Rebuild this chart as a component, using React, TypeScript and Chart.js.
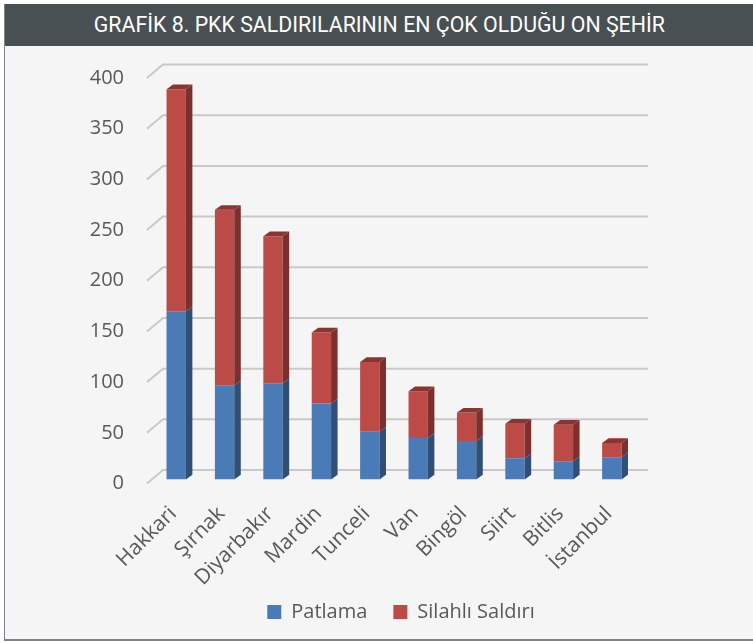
import React, { useEffect, useRef } from "react";
import { Chart, registerables } from "chart.js";

Chart.register(...registerables);

const TITLE = "GRAFİK 8. PKK SALDIRILARININ EN ÇOK OLDUĞU ON ŞEHİR";
const categories = ["Hakkari", "Şırnak", "Diyarbakır", "Mardin", "Tunceli", "Van", "Bingöl", "Siirt", "Bitlis", "İstanbul"];
const patlama = [166, 93, 95, 75, 47, 41, 38, 21, 18, 22];
const silahliSaldiri = [219, 173, 145, 70, 69, 46, 28, 34, 36, 14];
const seriesNames = ["Patlama", "Silahlı Saldırı"];
const yTicks = [0, 50, 100, 150, 200, 250, 300, 350, 400];

const FRONT = ["#4a7bb6", "#bc4b48"];
const SIDE = ["#2f4f76", "#7c2f2d"];
const TOP = ["#3a5f8e", "#8b3533"];
const DX = 6.5;
const DY = 4.7;

const wallPlugin = {
  id: "wall",
  beforeDatasetsDraw(chart: any) {
    const { ctx, chartArea, scales } = chart;
    const y = scales.y;
    ctx.save();
    ctx.strokeStyle = "#c9c9c9";
    ctx.lineWidth = 2;
    for (const v of yTicks) {
      const yf = y.getPixelForValue(v);
      ctx.beginPath();
      ctx.moveTo(chartArea.left - 5, yf + 4);
      ctx.lineTo(chartArea.left + 11, yf - 9.5);
      ctx.lineTo(chartArea.right + 12, yf - 9.5);
      ctx.stroke();
    }
    ctx.restore();
  },
  afterDatasetsDraw(chart: any) {
    const { ctx } = chart;
    ctx.save();
    chart.data.datasets.forEach((ds: any, di: number) => {
      const meta = chart.getDatasetMeta(di);
      meta.data.forEach((bar: any) => {
        const p = bar.getProps(["x", "y", "base", "width"], true);
        const left = p.x - p.width / 2;
        const right = p.x + p.width / 2;
        const top = Math.min(p.y, p.base);
        const bottom = Math.max(p.y, p.base);
        ctx.fillStyle = SIDE[di];
        ctx.beginPath();
        ctx.moveTo(right, top);
        ctx.lineTo(right + DX, top - DY);
        ctx.lineTo(right + DX, bottom - DY);
        ctx.lineTo(right, bottom);
        ctx.closePath();
        ctx.fill();
        if (di === chart.data.datasets.length - 1) {
          ctx.fillStyle = TOP[di];
          ctx.beginPath();
          ctx.moveTo(left, top);
          ctx.lineTo(left + DX, top - DY);
          ctx.lineTo(right + DX, top - DY);
          ctx.lineTo(right, top);
          ctx.closePath();
          ctx.fill();
        }
      });
    });
    ctx.restore();
  },
};

export default function App() {
  const ref = useRef<HTMLCanvasElement>(null);
  useEffect(() => {
    if (!ref.current) return;
    const chart = new Chart(ref.current, {
      type: "bar",
      data: {
        labels: categories,
        datasets: [
          { label: seriesNames[0], data: patlama, backgroundColor: FRONT[0], barPercentage: 0.4, categoryPercentage: 1 },
          { label: seriesNames[1], data: silahliSaldiri, backgroundColor: FRONT[1], barPercentage: 0.4, categoryPercentage: 1 },
        ],
      },
      plugins: [wallPlugin],
      options: {
        animation: false,
        responsive: false,
        maintainAspectRatio: false,
        layout: { padding: { left: 44, right: 0, top: 28, bottom: 16 } },
        plugins: {
          tooltip: { enabled: false },
          legend: {
            position: "bottom",
            labels: {
              boxWidth: 14,
              boxHeight: 14,
              padding: 26,
              color: "#595959",
              font: { family: "'Open Sans'", size: 20 },
            },
          },
        },
        scales: {
          x: {
            stacked: true,
            grid: { display: false, drawTicks: false },
            border: { display: false },
            ticks: {
              minRotation: 45,
              maxRotation: 45,
              autoSkip: false,
              padding: 22,
              labelOffset: -3,
              color: "#595959",
              font: { family: "'Open Sans'", size: 21 },
            },
            afterFit: (s: any) => {
              s.height = 96.5;
              s._computeLabelArea = () => undefined;
            },
          },
          y: {
            stacked: true,
            min: 0,
            max: 400,
            grid: { display: false, drawTicks: false },
            border: { display: false },
            ticks: {
              stepSize: 50,
              padding: 28,
              labelOffset: 4,
              color: "#595959",
              font: { family: "'Open Sans'", size: 20 },
            },
            afterFit: (s: any) => {
              s.width = 103;
              s.paddingTop = 0;
              s.paddingBottom = 0;
            },
          },
          yR: {
            position: "right",
            display: true,
            grid: { display: false, drawTicks: false },
            border: { display: false },
            ticks: { display: false },
            afterFit: (s: any) => {
              s.width = 117;
              s.paddingTop = 0;
              s.paddingBottom = 0;
            },
          },
        },
      },
    });
    return () => chart.destroy();
  }, []);

  return (
    <div style={{ position: "absolute", left: 0, top: 0, width: 753, height: 642, background: "#ffffff", overflow: "hidden" }}>
      <div
        style={{
          position: "absolute",
          left: 4,
          top: 4,
          width: 749,
          height: 637,
          background: "#f5f5f5",
          borderLeft: "1px solid #7f8486",
          borderBottom: "2px solid #7f8486",
          boxSizing: "border-box",
          overflow: "hidden",
        }}
      >
        <div
          style={{
            position: "absolute",
            left: 0,
            top: 0,
            right: 0,
            height: 42,
            background: "#485053",
            color: "#ffffff",
            fontFamily: "Roboto, sans-serif",
            fontWeight: 400,
            fontSize: 22,
            lineHeight: "42px",
            textAlign: "center",
            whiteSpace: "nowrap",
          }}
        >
          <span style={{ display: "inline-block", transform: "scaleX(0.97)" }}>{TITLE}</span>
        </div>
        <canvas ref={ref} width={748} height={602} style={{ position: "absolute", left: 0, top: 42, display: "block" }} />
      </div>
    </div>
  );
}
